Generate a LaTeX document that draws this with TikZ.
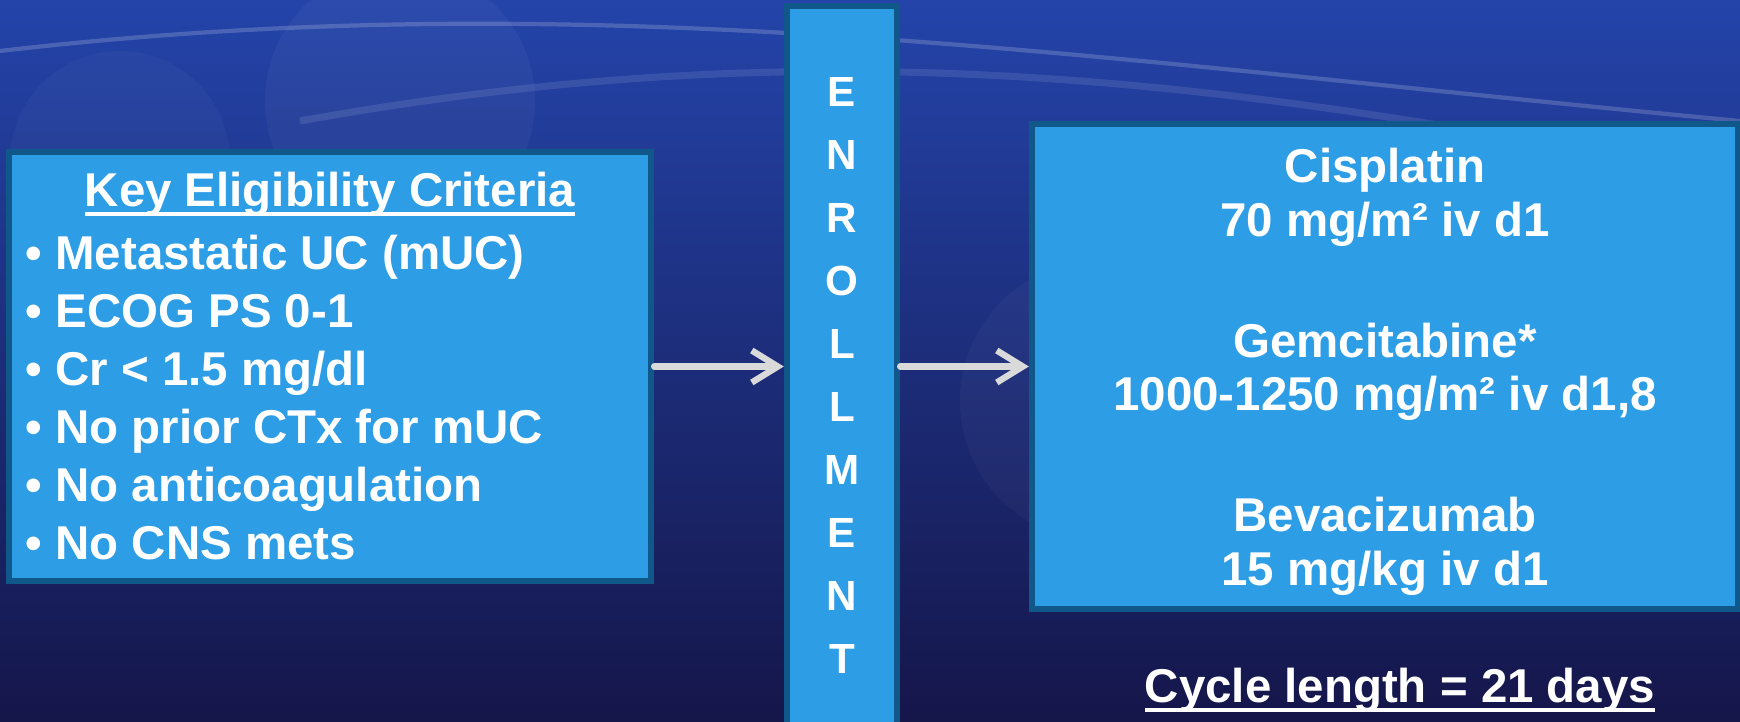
\documentclass[tikz,border=0pt]{standalone}
\usepackage{fontspec}
\setmainfont{Liberation Sans}
\usetikzlibrary{arrows.meta,positioning}
\definecolor{bgtop}{RGB}{36,68,170}
\definecolor{bgbot}{RGB}{21,22,74}
\definecolor{tblue}{RGB}{45,157,230}
\definecolor{tedge}{RGB}{17,88,138}
\definecolor{agray}{RGB}{218,218,218}
\newcommand\ulbold[1]{\setbox0\hbox{#1}\rlap{\rule[-2.8pt]{\wd0}{1pt}}\box0}
\tikzset{
  box/.style ={rectangle, draw=tedge, line width=1.8pt, fill=tblue, text=white,
               align=center, inner sep=0pt, font=\fontsize{13.5}{16.5}\selectfont\bfseries},
  ar/.style  ={-{Straight Barb[length=2.6mm,width=3.2mm]}, draw=agray,
               line width=1.8pt, line cap=round},
  lbl/.style ={text=white, inner sep=0pt, font=\fontsize{13.5}{16.5}\selectfont\bfseries}
}
\begin{document}
\begin{tikzpicture}
% backdrop
\shade[top color=bgtop, bottom color=bgbot] (0,0) rectangle (17.4,7.21);
\useasboundingbox (0,0) rectangle (17.4,7.21);
\fill[white, opacity=0.04] (4.0,6.2) circle (1.35);
\fill[white, opacity=0.03] (11.0,3.2) circle (1.4);
\fill[white, opacity=0.03] (1.2,5.6) circle (1.1);
\draw[white, opacity=0.18, line width=1.2pt] (0,6.7) .. controls (6,7.4) and (11,6.6) .. (17.4,6.0);
\draw[white, opacity=0.10, line width=2pt] (3,6.0) .. controls (8,6.9) and (12,6.5) .. (17.4,5.4);

\node[box, minimum width=6.42cm, minimum height=4.29cm] (crit) at (3.30,3.545) {};
\node[lbl, anchor=base] (crittitle) at (3.30,5.15) {\ulbold{Key Eligibility Criteria}};
\node[lbl, align=left, anchor=north west] (critlist) at (0.25,4.865)
  {• Metastatic UC (mUC)\\• ECOG PS 0-1\\• Cr < 1.5 mg/dl\\• No prior CTx for mUC\\
   • No anticoagulation\\• No CNS mets};

\node[box, minimum width=1.10cm, minimum height=7.39cm,
  font=\fontsize{12}{17.9}\selectfont\bfseries] (enroll) at (8.42,3.455)
  {E\\N\\R\\O\\L\\L\\M\\E\\N\\T};

\node[box, minimum width=7.06cm, minimum height=4.85cm] (regimen) at (13.85,3.545) {};
\node[lbl, align=center, font=\fontsize{13.5}{15.2}\selectfont\bfseries] (cis)
  at ([yshift=1.69cm]regimen.center) {Cisplatin\\70 mg/m² iv d1};
\node[lbl, align=center, font=\fontsize{13.5}{15.2}\selectfont\bfseries] (gem)
  at ([yshift=-0.055cm]regimen.center) {Gemcitabine*\\1000-1250 mg/m² iv d1,8};
\node[lbl, align=center, font=\fontsize{13.5}{15.2}\selectfont\bfseries] (bev)
  at ([yshift=-1.80cm]regimen.center) {Bevacizumab\\15 mg/kg iv d1};

\node[lbl, anchor=base] (cycle) at (14.00,0.19) {\ulbold{Cycle length = 21 days}};

\draw[ar] (crit.east) -- (crit.east -| enroll.west);
\draw[ar] (enroll.east |- regimen.west) -- (regimen.west);
\end{tikzpicture}
\end{document}
